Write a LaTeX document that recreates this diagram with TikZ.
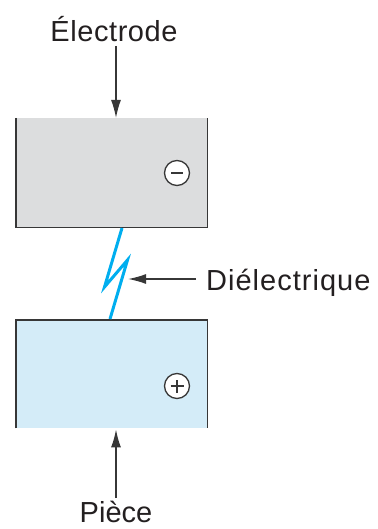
\documentclass[tikz,border=0pt]{standalone}
\usepackage{fontspec}
\setmainfont{Liberation Sans}
\usetikzlibrary{arrows.meta}
\definecolor{elecgrey}{RGB}{220,221,222}
\definecolor{piecblue}{RGB}{212,236,248}
\definecolor{sparkcyan}{RGB}{0,174,239}
\definecolor{edgegrey}{RGB}{55,55,55}
\definecolor{textdark}{RGB}{35,31,32}
\tikzset{
  plate/.style={draw=none, minimum width=191pt, minimum height=109pt, inner sep=0pt, anchor=north west},
  edge/.style={draw=edgegrey, line width=1.6pt},
  pointer/.style={draw=edgegrey, line width=1.5pt, -{Latex[length=18pt,width=10pt]}},
  lbl/.style={font=\fontsize{29}{34}\selectfont, text=textdark, inner sep=0pt},
  sign/.style={circle, draw=edgegrey, line width=1.3pt, fill=white, minimum size=25pt, inner sep=0pt}
}
\begin{document}
\begin{tikzpicture}[x=1pt,y=-1pt]
\useasboundingbox (0,0) rectangle (377,529);
% plates
\node[plate, fill=elecgrey] (elec) at (16,118) {};
\node[plate, fill=piecblue, minimum height=108pt] (piece) at (16,320) {};
\draw[edge] (elec.north west) -- (elec.south west) -- (elec.south east) -- (elec.north east);
\draw[edge] (piece.south west) -- (piece.north west) -- (piece.north east) -- (piece.south east);
% signs
\node[sign] (minus) at (177,173) {};
\draw[edgegrey, line width=2pt] ([xshift=-6pt]minus.center) -- ([xshift=6pt]minus.center);
\node[sign] (plus) at (177,386) {};
\draw[edgegrey, line width=1.6pt] ([xshift=-6.5pt]plus.center) -- ([xshift=6.5pt]plus.center)
      ([yshift=-6.5pt]plus.center) -- ([yshift=6.5pt]plus.center);
% spark
\coordinate (s0) at (122,228);
\coordinate (s1) at (104.5,287);
\coordinate (s2) at (127.5,260);
\coordinate (s3) at (110,319);
\draw[sparkcyan, line width=3pt, line join=miter] (s0) -- (s1) -- (s2) -- (s3);
% labels
\node[lbl, anchor=base] (telec) at (114,42) {\addfontfeature{LetterSpace=2}Électrode};
\node[lbl, anchor=base west] (tdiel) at (206,290) {\addfontfeature{LetterSpace=3.5}Diélectrique};
\node[lbl, anchor=base] (tpiece) at (116,522) {Pièce};
% pointers
\coordinate (ea) at (116,46);
\coordinate (pa) at (116,498);
\coordinate (da) at (196,279);
\draw[pointer] (ea) -- (elec.north -| ea);
\draw[pointer] (pa) -- ([yshift=-1pt]piece.south -| pa);
\draw[pointer] (da) -- (128,279);
\end{tikzpicture}
\end{document}
